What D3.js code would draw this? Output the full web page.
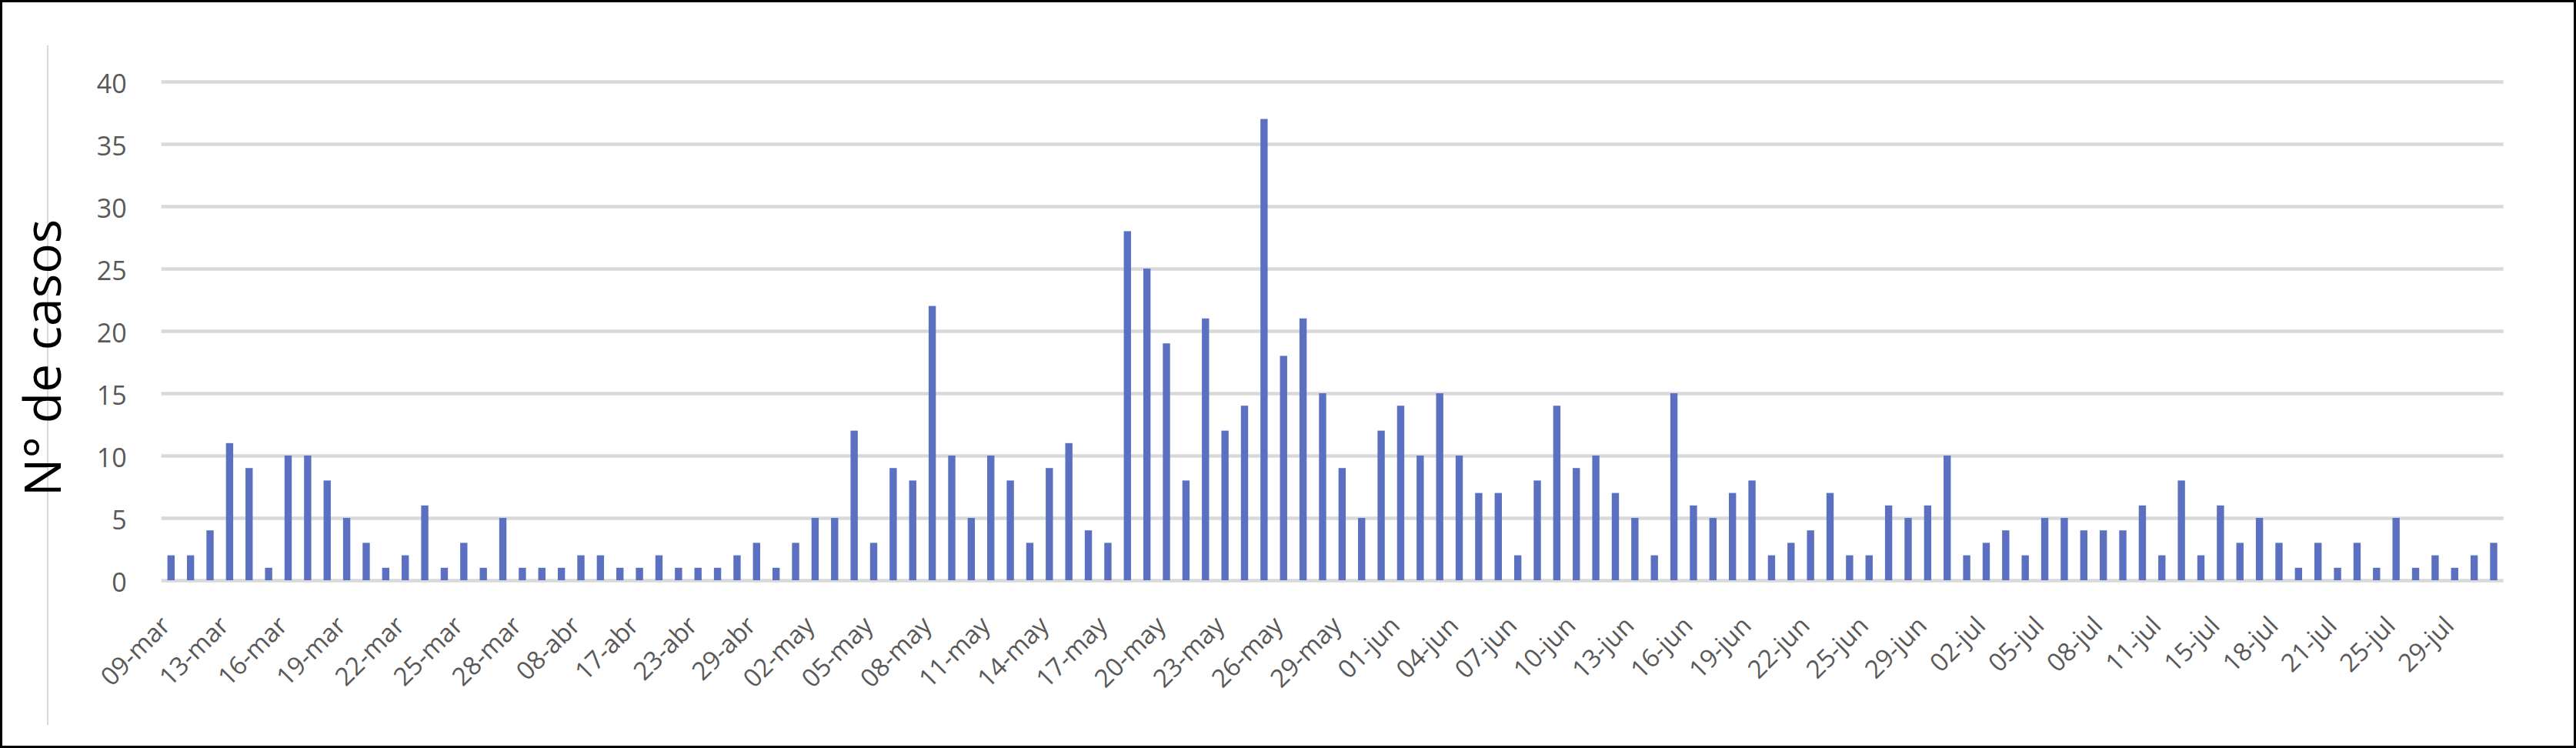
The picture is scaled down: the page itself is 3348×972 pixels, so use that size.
<!DOCTYPE html>
<html>
<head>
<meta charset="utf-8">
<script src="https://cdn.jsdelivr.net/npm/d3@7"></script>
<style>
  body { margin: 0; background: #fff; }
  svg, svg text { font-family: "Open Sans", "Noto Sans", sans-serif; }
</style>
</head>
<body>
<script>
// categories: reporting dates (only days with cases)
var dates = ['09-mar','10-mar','12-mar','13-mar','14-mar','15-mar','16-mar','17-mar','18-mar','19-mar',
  '20-mar','21-mar','22-mar','23-mar','24-mar','25-mar','26-mar','27-mar','28-mar','31-mar',
  '03-abr','08-abr','12-abr','15-abr','17-abr','19-abr','21-abr','23-abr','25-abr','27-abr',
  '29-abr','30-abr','01-may','02-may','03-may','04-may','05-may','06-may','07-may','08-may',
  '09-may','10-may','11-may','12-may','13-may','14-may','15-may','16-may','17-may','18-may',
  '19-may','20-may','21-may','22-may','23-may','24-may','25-may','26-may','27-may','28-may',
  '29-may','30-may','31-may','01-jun','02-jun','03-jun','04-jun','05-jun','06-jun','07-jun',
  '08-jun','09-jun','10-jun','11-jun','12-jun','13-jun','14-jun','15-jun','16-jun','17-jun',
  '18-jun','19-jun','20-jun','21-jun','22-jun','23-jun','24-jun','25-jun','26-jun','28-jun',
  '29-jun','30-jun','01-jul','02-jul','03-jul','04-jul','05-jul','06-jul','07-jul','08-jul',
  '09-jul','10-jul','11-jul','13-jul','14-jul','15-jul','16-jul','17-jul','18-jul','19-jul',
  '20-jul','21-jul','22-jul','23-jul','25-jul','26-jul','27-jul','29-jul','30-jul','31-jul']

// series: number of cases per date
var casos = [2,2,4,11,9,1,10,10,8,5,3,1,2,6,1,
  3,1,5,1,1,1,2,2,1,1,2,1,1,1,2,
  3,1,3,5,5,12,3,9,8,22,10,5,10,8,3,9,
  11,4,3,28,25,19,8,21,12,14,37,18,21,15,9,
  5,12,14,10,15,10,7,7,2,8,14,9,10,7,5,2,
  15,6,5,7,8,2,3,4,7,2,2,6,5,6,10,
  2,3,4,2,5,5,4,4,4,6,2,8,2,6,3,
  5,3,1,3,1,3,1,5,1,2,1,2,3]

var y_ticks = [0,5,10,15,20,25,30,35,40]
var y_title = 'N° de casos'

var width = 3348, height = 972
var plot_left = 209.6, plot_right = 3253.7, plot_top = 106, plot_bottom = 754
var font = '"Open Sans", "Noto Sans", sans-serif'

var svg = d3.select('body').append('svg').attr('width', width).attr('height', height)

// outer frame
svg.append('rect').attr('x', 1.5).attr('y', 1.5).attr('width', width-3).attr('height', height-3)
   .attr('fill', '#fff').attr('stroke', '#000').attr('stroke-width', 3)
svg.append('line').attr('x1', 62).attr('x2', 62).attr('y1', 59).attr('y2', 942)
   .attr('stroke', '#d9d9d9').attr('stroke-width', 2)

var x = d3.scaleBand().domain(dates).range([plot_left, plot_right]).paddingInner(0.63).paddingOuter(0.315)
var y = d3.scaleLinear().domain([0, 40]).range([plot_bottom, plot_top])

// y axis with gridlines
var yAxis = svg.append('g').attr('transform', 'translate('+plot_left+',0)')
   .call(d3.axisLeft(y).tickValues(y_ticks).tickSize(-(plot_right-plot_left)).tickPadding(45))
   .attr('font-family', font).attr('font-size', 34)
yAxis.select('.domain').remove()
yAxis.selectAll('line').attr('stroke', '#d9d9d9').attr('stroke-width', 4.5)
yAxis.selectAll('text').attr('fill', '#595959').attr('dy', '0.42em')

// bars
svg.selectAll('rect.bar').data(casos).enter().append('rect')
   .attr('class', 'bar')
   .attr('x', (d,i) => x(dates[i]))
   .attr('width', x.bandwidth())
   .attr('y', d => y(d))
   .attr('height', d => y(0) - y(d))
   .attr('fill', '#5b70c0')

// x axis, every third date labelled
var xAxis = svg.append('g').attr('transform', 'translate(0,'+plot_bottom+')')
   .call(d3.axisBottom(x).tickValues(dates.filter((d,i) => i%3 == 0)).tickSize(0))
   .attr('font-family', font).attr('font-size', 33)
xAxis.select('.domain').remove()
xAxis.selectAll('text')
   .attr('x', 0).attr('y', 0).attr('dy', 0)
   .attr('transform', 'translate(1,61) rotate(-45)')
   .style('text-anchor', 'end')
   .attr('fill', '#595959')

// y title
svg.append('text')
   .attr('transform', 'translate(79,465) rotate(-90)')
   .attr('text-anchor', 'middle')
   .attr('font-family', font)
   .attr('font-size', 66)
   .attr('fill', '#000')
   .text(y_title)
</script>
</body>
</html>
